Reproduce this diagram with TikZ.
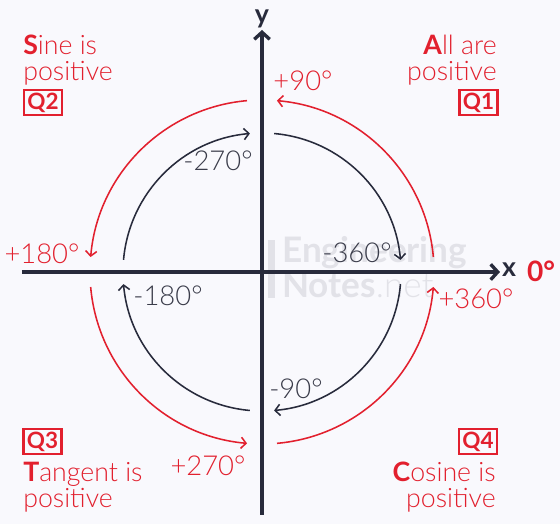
\documentclass[tikz,border=0pt]{standalone}
\usepackage{fontspec}
\setmainfont{Lato}[UprightFont=* Light, BoldFont=* Bold]
\usetikzlibrary{arrows.meta}
\definecolor{qred}{RGB}{226,32,46}
\definecolor{navy}{RGB}{40,43,60}
\definecolor{deggray}{RGB}{58,60,74}
\definecolor{wmgray}{RGB}{226,226,232}
\definecolor{paper}{RGB}{249,249,253}
% one quarter arc of radius #3 from angle #1 to angle #2
\def\Quarter from (#1) to (#2) radius (#3) #4; {
    \draw[#4] (#1:#3) arc (#1:#2:#3);
}

\begin{document}
\begin{tikzpicture}[x=0.025cm, y=0.025cm,
    axis/.style={line width=2.4pt, draw=navy, -{Straight Barb[length=5pt,width=11pt]}},
    redarc/.style={line width=1.1pt, draw=qred, -{Straight Barb[length=3.5pt,width=8pt]}},
    navyarc/.style={line width=1.1pt, draw=navy, -{Straight Barb[length=3.5pt,width=8pt]}},
    deg/.style={font=\fontsize{19.5}{19.5}\selectfont},
    quad/.style={text=qred, inner sep=0pt, font=\fontsize{19}{18.5}\selectfont},
    qbox/.style={draw=qred, line width=1.5pt, text=qred, inner sep=0pt,
        minimum width=0.95cm, minimum height=0.63cm,
        font=\fontsize{16}{16}\selectfont\bfseries}]
    \fill[paper] (-262,-252) rectangle (298,272);
    \useasboundingbox (-262,-252) rectangle (298,272);

    % watermark
    \fill[wmgray] (6,-26) rectangle (13,32);
    \node[anchor=base west, inner sep=0pt, text=wmgray, font=\fontsize{25}{25}\selectfont\bfseries] (wm1) at (20,9) {Engineering};
    \node[anchor=base west, inner sep=0pt, text=wmgray, font=\fontsize{25}{25}\selectfont] (wm2) at (20,-26) {\textbf{Notes}.net};

    % axes
    \draw[axis] (-240,0) -- (238,0);
    \draw[axis] (0,-243) -- (0,242);
    \node[text=navy, font=\fontsize{19}{19}\selectfont\bfseries] (xlab) at (247,2) {x};
    \node[text=navy, font=\fontsize{19}{19}\selectfont\bfseries] (ylab) at (0,253) {y};
    \node[text=qred, font=\fontsize{20}{20}\selectfont\bfseries] (zero) at (279,1) {0°};

    % positive direction
    \Quarter from (5) to (85) radius (172) redarc;
    \Quarter from (95) to (175) radius (172) redarc;
    \Quarter from (185) to (265) radius (172) redarc;
    \Quarter from (275) to (355) radius (172) redarc;
    % negative direction
    \Quarter from (85) to (5) radius (139) navyarc;
    \Quarter from (-5) to (-85) radius (139) navyarc;
    \Quarter from (-95) to (-175) radius (139) navyarc;
    \Quarter from (175) to (95) radius (139) navyarc;

    \node[deg, text=qred] (p90) at (41,191) {+90°};
    \node[deg, text=qred] (p180) at (-220,18) {+180°};
    \node[deg, text=qred] (p270) at (-54,-194) {+270°};
    \node[deg, text=qred] (p360) at (214,-27) {+360°};
    \node[deg, text=deggray] (m270) at (-44,111) {-270°};
    \node[deg, text=deggray] (m360) at (95,19) {-360°};
    \node[deg, text=deggray] (m180) at (-94,-24) {-180°};
    \node[deg, text=deggray] (m90) at (34,-117) {-90°};

    % quadrants
    \node[quad, anchor=west, align=left] (q2text) at (-239,212) {\textbf{S}ine is\\positive};
    \node[qbox] (q2) at (-219,169.5) {Q2};
    \node[quad, anchor=east, align=right] (q1text) at (235,212) {\textbf{A}ll are\\positive};
    \node[qbox] (q1) at (216.5,169.5) {Q1};
    \node[qbox] (q3) at (-219.5,-169.5) {Q3};
    \node[quad, anchor=west, align=left] (q3text) at (-239,-215) {\textbf{T}angent is\\positive};
    \node[qbox] (q4) at (216,-169.5) {Q4};
    \node[quad, anchor=east, align=right] (q4text) at (234,-215) {\textbf{C}osine is\\positive};
\end{tikzpicture}
\end{document}
